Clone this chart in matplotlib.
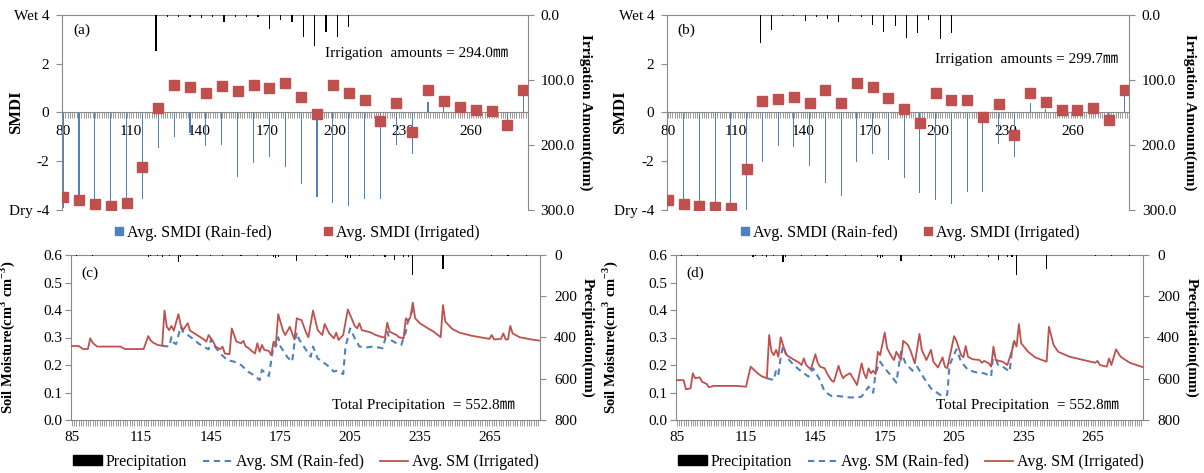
import numpy as np
import matplotlib
matplotlib.use("Agg")
from matplotlib import pyplot as plt
from matplotlib.ticker import MultipleLocator, FixedLocator
from matplotlib.lines import Line2D
from matplotlib.patches import Patch

plt.rcParams['font.family'] = ['Liberation Serif', 'Noto Sans CJK SC', 'DejaVu Sans']
plt.rcParams['mathtext.fontset'] = 'custom'
plt.rcParams['mathtext.rm'] = 'Liberation Serif'
plt.rcParams['mathtext.bf'] = 'Liberation Serif:bold'

BLUE = "#4F81BD"
RED = "#C0504D"
GRAY = "#8A8A8A"

# ---------------------------------------------------------------------------
# SMDI (weekly) - panels (a) and (b)
# ---------------------------------------------------------------------------
week_days = [80, 87, 94, 101, 108, 115, 122, 129, 136, 143, 150, 157, 164, 171, 178,
             185, 192, 199, 206, 213, 220, 227, 234, 241, 248, 255, 262, 269, 276, 283]

smdi_rain_a = [-3.9, -3.8, -3.9, -3.95, -3.85, -3.56, -1.47, -1.02, -0.85, -1.37, -1.34, -2.66, -2.09, -1.84, -2.25,
               -2.95, -3.45, -3.73, -3.84, -3.56, -3.56, -1.34, -1.72, 0.44, 0.23, 0.05, 0.03, 0.03, -0.3, 0.78]
smdi_irr_a = [-3.48, -3.59, -3.75, -3.84, -3.73, -2.25, 0.19, 1.12, 1.05, 0.78, 1.08, 0.89, 1.12, 1.01, 1.23,
              0.64, -0.05, 1.13, 0.78, 0.53, -0.34, 0.40, -0.79, 0.91, 0.46, 0.23, 0.10, 0.07, -0.52, 0.91]

smdi_rain_b = [-3.8, -3.9, -3.9, -3.95, -3.95, -4.0, -2.02, -1.37, -1.41, -2.2, -2.88, -3.43, -2.02, -1.71, -1.93,
               -2.7, -3.32, -3.59, -3.75, -3.25, -3.25, -1.30, -1.82, 0.37, 0.16, 0.05, 0.02, 0.03, -0.1, 0.78]
smdi_irr_b = [-3.59, -3.77, -3.84, -3.89, -3.92, -2.32, 0.48, 0.57, 0.64, 0.41, 0.91, 0.41, 1.19, 1.05, 0.61,
              0.16, -0.42, 0.82, 0.53, 0.50, -0.18, 0.33, -0.93, 0.82, 0.44, 0.12, 0.10, 0.19, -0.29, 0.91]

irr_days = [121, 126, 131, 136, 141, 146, 151, 156, 161, 166, 171, 176, 181, 186, 191, 196, 201, 206]
irr_a = [56, 3.5, 3, 3, 4, 3, 11, 3, 3, 3, 22, 7.5, 11, 34.5, 47, 26, 34.5, 19]
irr_b = [43.5, 22.5, 2, 2, 9.5, 3, 6.5, 11.5, 2, 3, 15, 26.5, 17.5, 35, 28, 7.5, 37.5, 27.2]

# ---------------------------------------------------------------------------
# daily soil moisture - panels (c) and (d)
# ---------------------------------------------------------------------------
sm_irr_c_day = [85, 88, 90, 92, 93, 94, 96, 106, 108, 116, 118, 119, 120, 122, 124, 125, 126, 127, 128, 129,
                131, 132, 133, 135, 136, 139, 142, 143, 144, 146, 147, 149, 150, 151, 153, 154, 156, 158, 159, 160,
                161, 163, 164, 165, 166, 167, 168, 170, 171, 172, 173, 174, 176, 177, 179, 180, 181, 182, 183, 184,
                186, 187, 189, 191, 193, 194, 196, 198, 199, 200, 202, 204, 205, 207, 208, 209, 210, 214, 216, 219,
                220, 221, 222, 225, 226, 228, 229, 230, 231, 232, 233, 235, 238, 241, 244, 245, 246, 249, 252, 257,
                261, 265, 266, 267, 270, 271, 272, 273, 274, 275, 278, 283, 287]
sm_irr_c = [0.269, 0.269, 0.258, 0.258, 0.297, 0.281, 0.267, 0.267, 0.258, 0.258, 0.305, 0.290, 0.282, 0.273, 0.270,
            0.398, 0.339, 0.327, 0.342, 0.325, 0.385, 0.345, 0.327, 0.352, 0.325, 0.309, 0.293, 0.285, 0.309, 0.285,
            0.267, 0.257, 0.267, 0.242, 0.239, 0.333, 0.285, 0.279, 0.288, 0.267, 0.263, 0.248, 0.242, 0.279, 0.248,
            0.273, 0.255, 0.251, 0.236, 0.285, 0.275, 0.385, 0.327, 0.309, 0.339, 0.315, 0.293, 0.370, 0.366, 0.364,
            0.318, 0.301, 0.398, 0.327, 0.309, 0.349, 0.315, 0.297, 0.318, 0.291, 0.309, 0.402, 0.382, 0.342, 0.333,
            0.352, 0.327, 0.318, 0.309, 0.301, 0.301, 0.354, 0.321, 0.309, 0.301, 0.297, 0.370, 0.358, 0.376, 0.427,
            0.370, 0.352, 0.336, 0.321, 0.301, 0.418, 0.358, 0.331, 0.318, 0.307, 0.301, 0.295, 0.309, 0.293, 0.295,
            0.315, 0.293, 0.293, 0.342, 0.315, 0.301, 0.293, 0.288]

sm_rain_c_day = [124, 127, 128, 129, 130, 132, 133, 137, 140, 144, 145, 146, 149, 152, 155, 158, 161, 164, 166, 167,
                 170, 172, 173, 174, 175, 178, 180, 181, 182, 183, 186, 188, 189, 191, 195, 198, 199, 202, 203, 205,
                 207, 209, 212, 215, 219, 221, 222, 225, 227, 229, 230, 232]
sm_rain_c = [0.270, 0.267, 0.301, 0.281, 0.276, 0.339, 0.321, 0.297, 0.276, 0.257, 0.293, 0.275, 0.242, 0.218, 0.212,
             0.200, 0.176, 0.160, 0.145, 0.182, 0.160, 0.273, 0.267, 0.301, 0.267, 0.228, 0.212, 0.279, 0.318, 0.293,
             0.255, 0.230, 0.267, 0.224, 0.200, 0.176, 0.179, 0.167, 0.267, 0.333, 0.297, 0.267, 0.264, 0.267, 0.261,
             0.321, 0.293, 0.279, 0.273, 0.321, 0.364, 0.400]

sm_irr_d_day = [85, 88, 89, 91, 92, 93, 95, 96, 98, 99, 101, 111, 115, 117, 120, 122, 124, 125, 126, 127,
                128, 129, 130, 132, 133, 136, 138, 139, 140, 141, 143, 145, 146, 147, 149, 150, 152, 153, 155, 156,
                157, 158, 160, 162, 163, 165, 166, 167, 168, 169, 170, 171, 172, 173, 175, 176, 178, 179, 180, 182,
                183, 185, 186, 188, 190, 191, 193, 195, 196, 198, 200, 201, 202, 205, 206, 208, 209, 210, 211, 213,
                216, 217, 218, 220, 221, 222, 223, 226, 228, 230, 231, 232, 233, 234, 237, 240, 243, 245, 246, 248,
                250, 255, 261, 266, 267, 268, 271, 272, 273, 275, 277, 281, 287]
sm_irr_d = [0.145, 0.145, 0.112, 0.115, 0.170, 0.152, 0.155, 0.139, 0.131, 0.119, 0.124, 0.124, 0.121, 0.194, 0.170,
            0.158, 0.152, 0.309, 0.249, 0.236, 0.255, 0.230, 0.301, 0.245, 0.233, 0.218, 0.208, 0.200, 0.224, 0.200,
            0.184, 0.239, 0.208, 0.194, 0.188, 0.170, 0.143, 0.139, 0.197, 0.170, 0.152, 0.161, 0.170, 0.142, 0.127,
            0.206, 0.170, 0.152, 0.188, 0.170, 0.179, 0.167, 0.248, 0.236, 0.318, 0.261, 0.230, 0.218, 0.248, 0.218,
            0.288, 0.273, 0.255, 0.206, 0.313, 0.255, 0.218, 0.255, 0.212, 0.191, 0.228, 0.194, 0.188, 0.305, 0.288,
            0.236, 0.228, 0.269, 0.230, 0.221, 0.218, 0.208, 0.215, 0.206, 0.194, 0.267, 0.218, 0.212, 0.200, 0.252,
            0.288, 0.267, 0.349, 0.279, 0.248, 0.228, 0.218, 0.212, 0.339, 0.273, 0.248, 0.230, 0.218, 0.208, 0.215,
            0.200, 0.194, 0.224, 0.200, 0.257, 0.230, 0.208, 0.191]

sm_rain_d_day = [124, 127, 128, 129, 130, 131, 133, 136, 139, 142, 144, 147, 149, 152, 155, 157, 160, 163, 165, 168,
                 170, 171, 173, 175, 178, 180, 182, 184, 187, 189, 192, 195, 199, 202, 203, 206, 208, 211, 215, 218,
                 221, 222, 224, 226, 229, 230, 231]
sm_rain_d = [0.152, 0.145, 0.182, 0.167, 0.228, 0.269, 0.224, 0.197, 0.176, 0.158, 0.188, 0.145, 0.103, 0.087, 0.087,
             0.085, 0.082, 0.082, 0.085, 0.121, 0.099, 0.170, 0.212, 0.188, 0.158, 0.136, 0.248, 0.206, 0.179, 0.194,
             0.152, 0.115, 0.091, 0.091, 0.200, 0.257, 0.212, 0.182, 0.172, 0.170, 0.158, 0.248, 0.200, 0.194, 0.176,
             0.255, 0.288]

precip_days = [87, 94, 118, 119, 122, 124, 127, 131, 132, 139, 145, 150, 158, 165, 172, 173, 174, 182, 190, 195,
               203, 204, 205, 209, 215, 220, 224, 228, 230, 232, 245, 266, 273, 281]
precip_mm = [5, 5, 8, 5, 5, 8, 5, 32, 8, 5, 5, 5, 5, 5, 11, 16, 8, 27, 5, 5,
             8, 16, 16, 5, 5, 8, 24, 8, 11, 97, 69, 5, 5, 5]

fig = plt.figure(figsize=(12.04, 4.73), dpi=100)
W, H = 1204.0, 473.0


def rect(left, right, top, bottom):
    return [left / W, 1 - bottom / H, (right - left) / W, (bottom - top) / H]


def frame(ax, ax2):
    for s in ax.spines.values():
        s.set_color(GRAY)
        s.set_linewidth(0.8)
    ax.spines['right'].set_visible(False)
    for name in ('top', 'bottom', 'left'):
        ax2.spines[name].set_visible(False)
    ax2.spines['right'].set_color(GRAY)
    ax2.spines['right'].set_linewidth(0.8)


def smdi_panel(r, rain, irr, irr_amt, tag, note, note_xy, ylab_x, y2lab_x, leg_x, colsp):
    ax = fig.add_axes(r)
    ax2 = ax.twinx()
    ax.bar(week_days, rain, width=0.5, color=BLUE, linewidth=0, zorder=2)
    ax.plot(week_days, irr, 's', ms=6.5, color=RED, zorder=4)
    ax2.bar(irr_days, irr_amt, width=0.5, color='black', linewidth=0)
    ax.set_xlim(79.5, 285.1)
    ax.set_ylim(-4, 4)
    ax2.set_ylim(300, 0)
    frame(ax, ax2)
    ax.spines['bottom'].set_position(('data', 0))

    ax.xaxis.set_major_locator(FixedLocator([80, 110, 140, 170, 200, 230, 260]))
    ax.xaxis.set_minor_locator(MultipleLocator(1))
    ax.tick_params(axis='x', which='both', direction='out', length=4, width=0.6, color=GRAY,
                   labelsize=11, pad=5)
    ax.set_yticks([-4, -2, 0, 2, 4])
    ax.set_yticklabels(['Dry -4', '-2', '0', '2', 'Wet 4'])
    ax.tick_params(axis='y', direction='out', length=4, width=0.8, color=GRAY, labelsize=11, pad=5)
    ax2.set_yticks([0, 100, 200, 300])
    ax2.set_yticklabels(['0.0', '100.0', '200.0', '300.0'])
    ax2.tick_params(axis='y', direction='out', length=4, width=0.8, color=GRAY, labelsize=11, pad=5)

    ax.set_ylabel('SMDI', fontsize=12, fontweight='bold')
    ax.yaxis.set_label_coords(ylab_x, 0.5)
    ax2.set_ylabel('Irrigation Amount(mm)', fontsize=11, fontweight='bold', rotation=270, va='center')
    ax2.yaxis.set_label_coords(y2lab_x, 0.5)

    ax.text(0.024, 0.923, tag, transform=ax.transAxes, fontsize=11, va='center')
    ax.text(note_xy[0], note_xy[1], note, transform=ax.transAxes, fontsize=11, va='center')

    handles = [Line2D([], [], marker='s', ls='none', color=BLUE, ms=6, label='Avg. SMDI (Rain-fed)'),
               Line2D([], [], marker='s', ls='none', color=RED, ms=6, label='Avg. SMDI (Irrigated)')]
    fig.legend(handles=handles, loc='center', bbox_to_anchor=(leg_x / W, 1 - 233 / H), ncol=2,
               frameon=False, fontsize=11.5, handlelength=0.6, handletextpad=0.2, columnspacing=colsp)
    return ax


def sm_panel(r, irr_d, irr_v, rain_d, rain_v, tag, ylab_x, y2lab_x, leg_x):
    ax = fig.add_axes(r)
    ax2 = ax.twinx()
    ax.plot(rain_d, rain_v, ls=(0, (3, 2.2)), color=BLUE, lw=1.5, zorder=2)
    ax.plot(irr_d, irr_v, color=RED, lw=1.3, zorder=3)
    ax2.bar(precip_days, precip_mm, width=0.5, color='black', linewidth=0)
    ax.set_xlim(84.5, 286.8)
    ax.set_ylim(0, 0.6)
    ax2.set_ylim(800, 0)
    frame(ax, ax2)

    ax.xaxis.set_major_locator(FixedLocator([85, 115, 145, 175, 205, 235, 265]))
    ax.xaxis.set_minor_locator(MultipleLocator(1))
    ax.tick_params(axis='x', which='both', direction='out', length=4, width=0.6, color=GRAY,
                   labelsize=11, pad=4)
    ax.set_yticks([0.0, 0.1, 0.2, 0.3, 0.4, 0.5, 0.6])
    ax.set_yticklabels(['0.0', '0.1', '0.2', '0.3', '0.4', '0.5', '0.6'])
    ax.tick_params(axis='y', direction='out', length=4, width=0.8, color=GRAY, labelsize=11, pad=2)
    ax2.set_yticks([0, 200, 400, 600, 800])
    ax2.set_yticklabels(['0', '200', '400', '600', '800'])
    ax2.tick_params(axis='y', direction='out', length=4, width=0.8, color=GRAY, labelsize=11, pad=6)

    ax.set_ylabel(r'Soil Moisture(cm$^{\mathbf{3}}$ cm$^{\mathbf{-3}}$)', fontsize=10.5, fontweight='bold')
    ax.yaxis.set_label_coords(ylab_x, 0.5)
    ax2.set_ylabel('Precipitation(mm)', fontsize=11, fontweight='bold', rotation=270, va='center')
    ax2.yaxis.set_label_coords(y2lab_x, 0.5)

    ax.text(0.024, 0.889, tag, transform=ax.transAxes, fontsize=11, va='center')
    ax.text(0.556, 0.085, 'Total Precipitation  = 552.8\u339c', transform=ax.transAxes,
            fontsize=11, va='center')

    handles = [Patch(facecolor='black', edgecolor='black', label='Precipitation'),
               Line2D([], [], ls=(0, (3, 2.2)), color=BLUE, lw=1.5, label='Avg. SM (Rain-fed)'),
               Line2D([], [], color=RED, lw=1.3, label='Avg. SM (Irrigated)')]
    fig.legend(handles=handles, loc='center', bbox_to_anchor=(leg_x / W, 1 - 462 / H), ncol=3,
               frameon=False, fontsize=11.5, handlelength=1.8, handleheight=0.6,
               handletextpad=0.25, columnspacing=1.0)
    return ax


smdi_panel(rect(62, 528, 15, 210), smdi_rain_a, smdi_irr_a, irr_a, '(a)',
           'Irrigation  amounts = 294.0\u339c', (0.564, 0.805), -0.082, 1.124, 297, 3.2)
smdi_panel(rect(666.7, 1129.3, 15, 210), smdi_rain_b, smdi_irr_b, irr_b, '(b)',
           'Irrigation  amounts = 299.7\u339c', (0.58, 0.774), -0.084, 1.131, 910, 1.6)

sm_panel(rect(70.5, 540, 255, 420), sm_irr_c_day, sm_irr_c, sm_rain_c_day, sm_rain_c, '(c)',
         -0.113, 1.102, 306)
sm_panel(rect(675.5, 1143.3, 255, 420), sm_irr_d_day, sm_irr_d, sm_rain_d_day, sm_rain_d, '(d)',
         -0.119, 1.103, 911)

fig.savefig("out.png", dpi=100)
plt.close()
